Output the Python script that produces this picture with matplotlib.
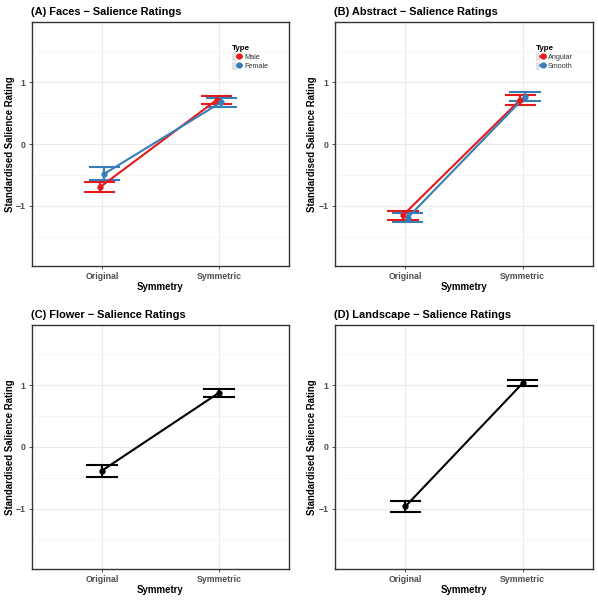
import numpy as np
import matplotlib.pyplot as plt
from matplotlib.lines import Line2D
from matplotlib.patches import Patch
from matplotlib.legend_handler import HandlerTuple

plt.rcParams['font.family'] = ['Liberation Sans', 'DejaVu Sans']

conditions = ["Original", "Symmetric"]

# panel A: faces
faces_types = ["Male", "Female"]
faces_mean = [[-0.70, 0.71], [-0.48, 0.675]]
faces_lo = [[-0.78, 0.65], [-0.585, 0.60]]
faces_hi = [[-0.61, 0.77], [-0.37, 0.75]]

# panel B: abstract
abstract_types = ["Angular", "Smooth"]
abstract_mean = [[-1.15, 0.715], [-1.19, 0.765]]
abstract_lo = [[-1.23, 0.635], [-1.26, 0.69]]
abstract_hi = [[-1.075, 0.795], [-1.12, 0.84]]

# panel C: flower
flower_mean = [-0.38, 0.875]
flower_lo = [-0.48, 0.81]
flower_hi = [-0.285, 0.94]

# panel D: landscape
landscape_mean = [-0.96, 1.03]
landscape_lo = [-1.05, 0.985]
landscape_hi = [-0.876, 1.075]

RED = "#E41A1C"
BLUE = "#377EB8"


def style_panel(ax, title):
    ax.set_xlim(0.4, 2.6)
    ax.set_ylim(-1.97, 1.97)
    ax.set_xticks([1, 2])
    ax.set_xticklabels(conditions)
    ax.set_yticks([-1, 0, 1])
    ax.set_yticks([-1.5, -0.5, 0.5, 1.5], minor=True)
    ax.grid(which="major", color="#EBEBEB", lw=0.8, zorder=0)
    ax.grid(which="minor", axis="y", color="#F5F5F5", lw=0.6, zorder=0)
    ax.tick_params(which="minor", length=0)
    ax.tick_params(which="major", length=2.5, width=0.6, color="#333333",
                   labelsize=6.3, labelcolor="#4D4D4D", pad=2)
    for lab in ax.get_xticklabels() + ax.get_yticklabels():
        lab.set_fontweight("bold")
    for s in ax.spines.values():
        s.set_color("#333333")
        s.set_linewidth(1.0)
    ax.set_xlabel("Symmetry", fontsize=6.9, fontweight="bold", labelpad=0.5)
    ax.set_ylabel("Standardised Salience Rating", fontsize=6.9,
                  fontweight="bold")
    ax.yaxis.set_label_coords(-0.068, 0.5)
    ax.set_title(title, loc="left", fontsize=7.9, fontweight="bold",
                 x=-0.005, pad=5)
    ax.set_axisbelow(True)


def draw_series(ax, x, mean, lo, hi, color, width=0.25):
    x = np.asarray(x, dtype=float)
    for xi, l, h in zip(x, lo, hi):
        ax.plot([xi - width / 2, xi + width / 2], [l, l], color=color, lw=1.5, zorder=3)
        ax.plot([xi - width / 2, xi + width / 2], [h, h], color=color, lw=1.5, zorder=3)
        ax.plot([xi, xi], [l, h], color=color, lw=1.5, zorder=3)
    ax.plot(x, mean, color=color, lw=1.5, zorder=4)
    ax.plot(x, mean, "o", color=color, ms=3.5, zorder=5)


def add_legend(ax, labels):
    handles = [(Patch(facecolor="#E3E3E3", edgecolor="none"),
                Line2D([], [], color=c, lw=1.8, marker="o", ms=3.5))
               for c in (RED, BLUE)]
    leg = ax.legend(handles, labels, title="Type", loc="upper left",
                    bbox_to_anchor=(0.76, 0.925), frameon=False, fontsize=5.2,
                    title_fontsize=5.8, handlelength=1.2, handleheight=1.25,
                    handletextpad=0.4, labelspacing=0.1, alignment="left",
                    borderpad=0.2,
                    handler_map={tuple: HandlerTuple(ndivide=None, pad=0)})
    leg.get_title().set_fontweight("bold")
    for t in leg.get_texts():
        t.set_color("#333333")


fig = plt.figure(figsize=(5.98, 6.0), dpi=100)
W, H = 598, 600
ax_a = fig.add_axes([32 / W, 1 - 266 / H, 257 / W, 244 / H])
ax_b = fig.add_axes([335 / W, 1 - 266 / H, 258 / W, 244 / H])
ax_c = fig.add_axes([32 / W, 1 - 569 / H, 257 / W, 244 / H])
ax_d = fig.add_axes([335 / W, 1 - 569 / H, 258 / W, 244 / H])

x = np.array([1, 2])
dodge = 0.02
for i, c in enumerate((RED, BLUE)):
    off = -dodge if i == 0 else dodge
    draw_series(ax_a, x + off, faces_mean[i], faces_lo[i], faces_hi[i], c)
    draw_series(ax_b, x + off, abstract_mean[i], abstract_lo[i], abstract_hi[i], c)
draw_series(ax_c, x, flower_mean, flower_lo, flower_hi, "black")
draw_series(ax_d, x, landscape_mean, landscape_lo, landscape_hi, "black")

style_panel(ax_a, "(A) Faces \u2212 Salience Ratings")
style_panel(ax_b, "(B) Abstract \u2212 Salience Ratings")
style_panel(ax_c, "(C) Flower \u2212 Salience Ratings")
style_panel(ax_d, "(D) Landscape \u2212 Salience Ratings")
add_legend(ax_a, faces_types)
add_legend(ax_b, abstract_types)

fig.savefig("out.png", dpi=100)
